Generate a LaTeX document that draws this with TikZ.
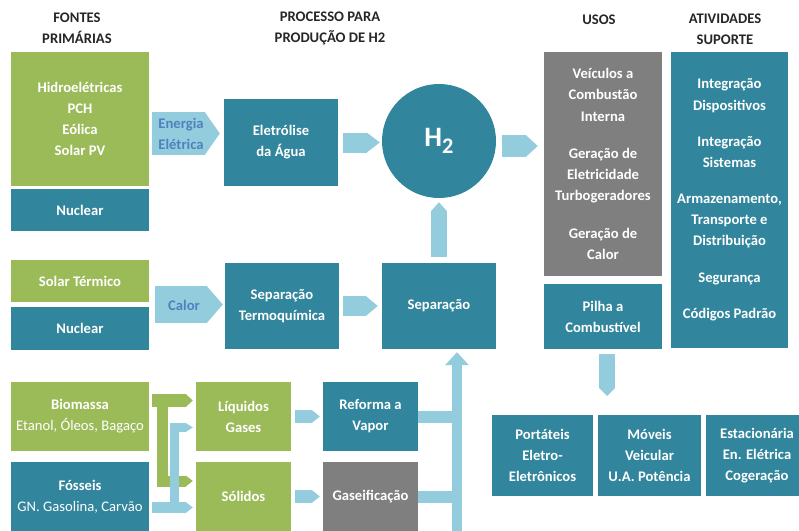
\documentclass[tikz,border=0pt]{standalone}
\usepackage{fontspec}
\setmainfont{Carlito}
\usetikzlibrary{arrows.meta}

\definecolor{verdeF}{HTML}{9BBB59}
\definecolor{azulF}{HTML}{31859C}
\definecolor{cinzaF}{HTML}{7F7F7F}
\definecolor{setaF}{HTML}{93CDDD}
\definecolor{rotuloF}{HTML}{4F81BD}
\definecolor{tituloF}{HTML}{262626}

\begin{document}
\begin{tikzpicture}[x=0.03cm, y=-0.03cm,
  caixa/.style={rectangle, inner sep=0pt, text=white, align=center,
    font=\fontsize{12.5}{18}\selectfont\bfseries},
  verde/.style={caixa, fill=verdeF},
  azul/.style={caixa, fill=azulF},
  cinza/.style={caixa, fill=cinzaF},
  titulo/.style={align=center, text=tituloF, font=\fontsize{12.5}{18}\selectfont\bfseries},
  rotulo/.style={align=center, text=rotuloF, font=\fontsize{12.5}{18}\selectfont\bfseries},
  seta/.style={setaF, line width=#1},
  ponta/.style={-{Triangle[length=#1, width=0pt 1, line width=0pt]}}]
  \useasboundingbox (0,0) rectangle (799,531);

  \node[titulo] (tfontes) at (77,28.5) {FONTES\\PRIMÁRIAS};
  \node[titulo] (tprocesso) at (330,28.5) {PROCESSO PARA\\PRODUÇÃO DE H2};
  \node[titulo] (tusos) at (599,20) {USOS};
  \node[titulo] (tativ) at (725,29.5) {ATIVIDADES\\SUPORTE};

  \node[verde, minimum width=4.14cm, minimum height=4.02cm] (hidro) at (80,119) {Hidroelétricas\\PCH\\Eólica\\Solar PV};
  \node[azul, minimum width=4.14cm, minimum height=1.26cm] (nuc1) at (80,210) {Nuclear};
  \node[azul, minimum width=3.42cm, minimum height=2.61cm] (eletro) at (281,142.5) {Eletrólise\\da Água};
  \node[circle, fill=azulF, minimum size=3.42cm, inner sep=0pt, text=white,
    font=\fontsize{24}{24}\selectfont\bfseries] (h2) at (439,141) {H\raisebox{-6pt}{\fontsize{19}{19}\selectfont 2}};

  \node[cinza, minimum width=3.54cm, minimum height=6.72cm] (usos) at (603,164)
    {Veículos a\\Combustão\\Interna\\[14pt]Geração de\\Eletricidade\\Turbogeradores\\[14pt]Geração de\\Calor};
  \node[azul, minimum width=3.54cm, minimum height=1.95cm] (pilha) at (603,316.5) {Pilha a\\Combustível};
  \node[azul, minimum width=3.51cm, minimum height=8.88cm] (ativ) at (729.5,200)
    {Integração\\Dispositivos\\[13pt]Integração\\Sistemas\\[13pt]Armazenamento,\\Transporte e\\Distribuição\\[13pt]Segurança\\[13pt]Códigos Padrão};

  \node[verde, minimum width=4.14cm, minimum height=1.26cm] (solar) at (80,281) {Solar Térmico};
  \node[azul, minimum width=4.14cm, minimum height=1.29cm] (nuc2) at (80,328.5) {Nuclear};
  \node[azul, minimum width=3.42cm, minimum height=2.58cm] (termo) at (282,306) {Separação\\Termoquímica};
  \node[azul, minimum width=3.42cm, minimum height=2.58cm] (sep) at (439,306) {Separação};

  \node[verde, minimum width=4.14cm, minimum height=2.07cm] (bio) at (80,416.5) {Biomassa\\{\mdseries Etanol, Óleos, Bagaço}};
  \node[azul, minimum width=4.14cm, minimum height=2.07cm] (fos) at (80,496.5) {Fósseis\\{\mdseries GN. Gasolina, Carvão}};
  \node[verde, minimum width=2.85cm, minimum height=2.07cm] (liq) at (243.5,416.5) {Líquidos\\Gases};
  \node[verde, minimum width=2.85cm, minimum height=2.07cm] (sol) at (243.5,496.5) {Sólidos};
  \node[azul, minimum width=2.85cm, minimum height=2.07cm] (ref) at (370.5,416.5) {Reforma a\\Vapor};
  \node[cinza, minimum width=2.85cm, minimum height=2.07cm] (gas) at (370.5,496.5) {Gaseificação};

  \node[azul, minimum width=3.03cm, minimum height=2.43cm] (port) at (542.5,455.5) {Portáteis\\Eletro-\\Eletrônicos};
  \node[azul, minimum width=3.09cm, minimum height=2.43cm] (mov) at (649.5,455.5) {Móveis\\Veicular\\U.A. Potência};
  \node[azul, minimum width=3.09cm, minimum height=2.43cm] (est) at (757,455.5) {Estacionária\\En. Elétrica\\Cogeração};

  \coordinate (ee) at (152,133.5);
  \coordinate (hu) at (502,146);
  \coordinate (cal) at (155,304.5);
  \coordinate (col) at (457,535);
  \coordinate (pd) at (607,396);
  \coordinate (gtop) at (152,400.5);
  \coordinate (gbot) at (162,481);
  \coordinate (btop) at (174,427.5);
  \coordinate (bbot) at (152,507.5);

  \draw[seta=1.29cm, ponta=0.45cm, shorten >=0.12cm] (ee) -- (ee -| eletro.west);
  \draw[seta=0.6cm, ponta=0.39cm, shorten <=0.15cm, shorten >=0.06cm] (eletro.east) -- (eletro.east -| h2.west);
  \draw[seta=0.66cm, ponta=0.36cm, shorten >=0.18cm] (hu) -- (hu -| usos.west);
  \draw[seta=0.48cm, ponta=0.27cm, shorten <=0.18cm, shorten >=0.12cm] (sep.north) -- (h2.south);
  \draw[seta=1.11cm, ponta=0.48cm, shorten >=0.06cm] (cal) -- (cal -| termo.west);
  \draw[seta=0.6cm, ponta=0.36cm, shorten <=0.12cm, shorten >=0.12cm] (termo.east) -- (sep.west);
  \draw[seta=0.39cm, ponta=0.24cm, shorten <=0.12cm, shorten >=0.09cm] (liq.east) -- (ref.west);
  \draw[seta=0.39cm, ponta=0.24cm, shorten <=0.12cm, shorten >=0.09cm] (sol.east) -- (gas.west);
  \draw[seta=0.48cm, ponta=0.24cm, shorten <=0.15cm] (pd |- pilha.south) -- (pd);

  \draw[seta=0.36cm] (ref.east) -- (ref.east -| col);
  \draw[seta=0.36cm] (gas.east) -- (gas.east -| col);
  \draw[seta=0.3cm, -{Triangle[length=0.39cm, width=0.72cm, line width=0pt]}, shorten >=0.09cm] (col) -- (col |- sep.south);

  \draw[verdeF, line width=0.39cm, ponta=0.21cm, shorten >=0.09cm] (gtop) -- (gtop -| liq.west);
  \draw[verdeF, line width=0.33cm, line join=miter, ponta=0.21cm, shorten >=0.09cm] (gtop -| gbot) -- (gbot) -- (gbot -| sol.west);
  \draw[seta=0.33cm, ponta=0.21cm, shorten >=0.09cm] (bbot) -- (bbot -| sol.west);
  \draw[seta=0.27cm, line join=miter, ponta=0.21cm, shorten >=0.09cm] (bbot -| btop) -- (btop) -- (btop -| liq.west);

  \node[rotulo] (energia) at (181,134) {Energia\\Elétrica};
  \node[rotulo] (calor) at (184,305) {Calor};
\end{tikzpicture}
\end{document}
